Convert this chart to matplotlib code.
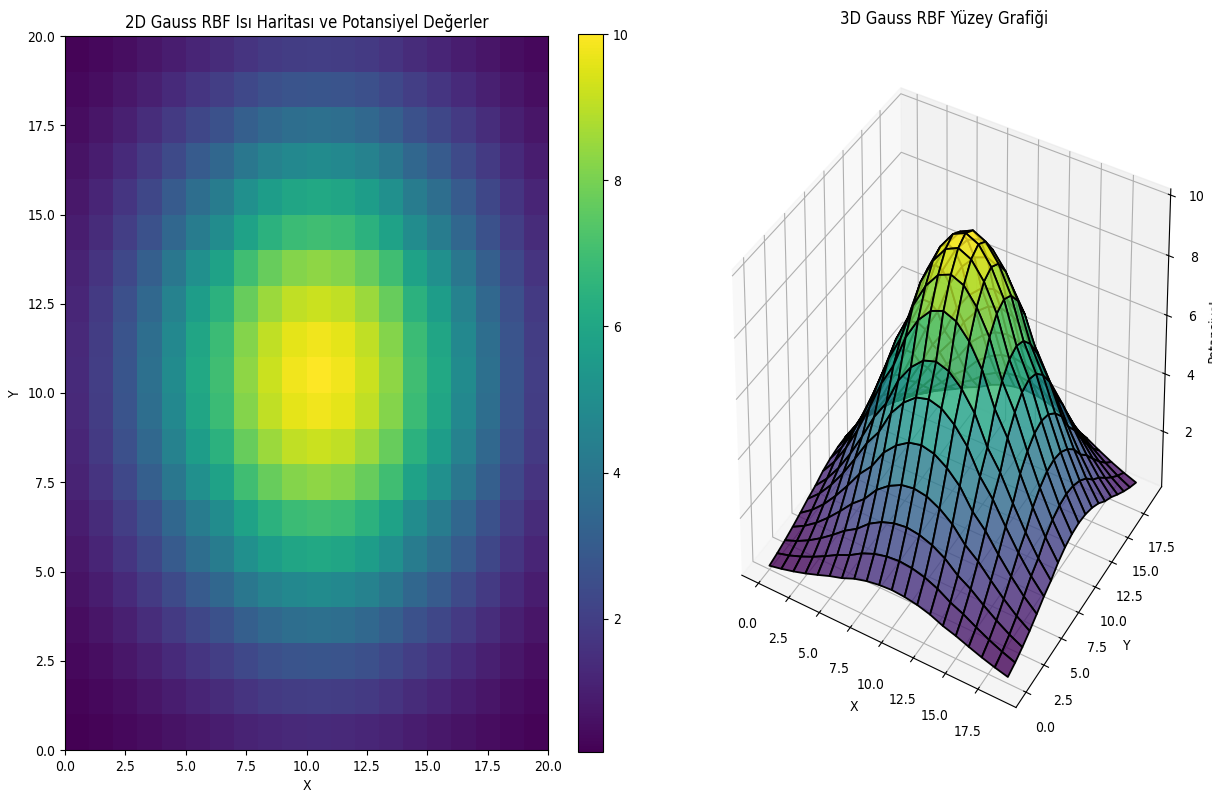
import matplotlib

matplotlib.use("Agg")
import matplotlib.pyplot as plt
import numpy as np

plt.rcParams["font.family"] = "DejaVu Sans"
plt.rcParams["font.stretch"] = "condensed"

# potential, one row per cell, bottom row first
potential = [
    [0.18, 0.27, 0.38, 0.51, 0.66, 0.82, 0.95, 1.13, 1.25, 1.32, 1.35, 1.32, 1.25, 1.13, 0.95, 0.82, 0.66, 0.51, 0.38, 0.27],
    [0.27, 0.39, 0.55, 0.74, 0.96, 1.20, 1.39, 1.65, 1.83, 1.94, 1.98, 1.94, 1.83, 1.65, 1.39, 1.20, 0.96, 0.74, 0.55, 0.39],
    [0.38, 0.55, 0.77, 1.04, 1.35, 1.69, 1.95, 2.32, 2.57, 2.72, 2.78, 2.72, 2.57, 2.32, 1.95, 1.69, 1.35, 1.04, 0.77, 0.55],
    [0.51, 0.74, 1.04, 1.41, 1.83, 2.28, 2.63, 3.13, 3.46, 3.68, 3.75, 3.68, 3.46, 3.13, 2.63, 2.28, 1.83, 1.41, 1.04, 0.74],
    [0.66, 0.96, 1.35, 1.83, 2.37, 2.96, 3.41, 4.07, 4.49, 4.77, 4.87, 4.77, 4.49, 4.07, 3.41, 2.96, 2.37, 1.83, 1.35, 0.96],
    [0.82, 1.20, 1.69, 2.28, 2.96, 3.68, 4.25, 5.07, 5.60, 5.95, 6.07, 5.95, 5.60, 5.07, 4.25, 3.68, 2.96, 2.28, 1.69, 1.20],
    [0.95, 1.39, 1.95, 2.63, 3.41, 4.25, 4.90, 5.85, 6.46, 6.86, 7.00, 6.86, 6.46, 5.85, 4.90, 4.25, 3.41, 2.63, 1.95, 1.39],
    [1.13, 1.65, 2.32, 3.13, 4.07, 5.07, 5.85, 6.97, 7.71, 8.18, 8.35, 8.18, 7.71, 6.97, 5.85, 5.07, 4.07, 3.13, 2.32, 1.65],
    [1.25, 1.83, 2.57, 3.46, 4.49, 5.60, 6.46, 7.71, 8.52, 9.05, 9.23, 9.05, 8.52, 7.71, 6.46, 5.60, 4.49, 3.46, 2.57, 1.83],
    [1.32, 1.94, 2.72, 3.68, 4.77, 5.95, 6.86, 8.18, 9.05, 9.60, 9.80, 9.60, 9.05, 8.18, 6.86, 5.95, 4.77, 3.68, 2.72, 1.94],
    [1.35, 1.98, 2.78, 3.75, 4.87, 6.07, 7.00, 8.35, 9.23, 9.80, 10.0, 9.80, 9.23, 8.35, 7.00, 6.07, 4.87, 3.75, 2.78, 1.98],
    [1.32, 1.94, 2.72, 3.68, 4.77, 5.95, 6.86, 8.18, 9.05, 9.60, 9.80, 9.60, 9.05, 8.18, 6.86, 5.95, 4.77, 3.68, 2.72, 1.94],
    [1.25, 1.83, 2.57, 3.46, 4.49, 5.60, 6.46, 7.71, 8.52, 9.05, 9.23, 9.05, 8.52, 7.71, 6.46, 5.60, 4.49, 3.46, 2.57, 1.83],
    [1.13, 1.65, 2.32, 3.13, 4.07, 5.07, 5.85, 6.97, 7.71, 8.18, 8.35, 8.18, 7.71, 6.97, 5.85, 5.07, 4.07, 3.13, 2.32, 1.65],
    [0.95, 1.39, 1.95, 2.63, 3.41, 4.25, 4.90, 5.85, 6.46, 6.86, 7.00, 6.86, 6.46, 5.85, 4.90, 4.25, 3.41, 2.63, 1.95, 1.39],
    [0.82, 1.20, 1.69, 2.28, 2.96, 3.68, 4.25, 5.07, 5.60, 5.95, 6.07, 5.95, 5.60, 5.07, 4.25, 3.68, 2.96, 2.28, 1.69, 1.20],
    [0.66, 0.96, 1.35, 1.83, 2.37, 2.96, 3.41, 4.07, 4.49, 4.77, 4.87, 4.77, 4.49, 4.07, 3.41, 2.96, 2.37, 1.83, 1.35, 0.96],
    [0.51, 0.74, 1.04, 1.41, 1.83, 2.28, 2.63, 3.13, 3.46, 3.68, 3.75, 3.68, 3.46, 3.13, 2.63, 2.28, 1.83, 1.41, 1.04, 0.74],
    [0.38, 0.55, 0.77, 1.04, 1.35, 1.69, 1.95, 2.32, 2.57, 2.72, 2.78, 2.72, 2.57, 2.32, 1.95, 1.69, 1.35, 1.04, 0.77, 0.55],
    [0.27, 0.39, 0.55, 0.74, 0.96, 1.20, 1.39, 1.65, 1.83, 1.94, 1.98, 1.94, 1.83, 1.65, 1.39, 1.20, 0.96, 0.74, 0.55, 0.39],
]
surface_ticks = [0.0, 2.5, 5.0, 7.5, 10.0, 12.5, 15.0, 17.5]

W, H = 1212, 807
fig = plt.figure(figsize=(W / 100, H / 100), dpi=100)

Z = np.array(potential)
n = Z.shape[0]

# Left: heatmap
ax1 = fig.add_axes([65 / W, 1 - 750 / H, 483 / W, 714 / H])
mesh = ax1.pcolormesh(np.arange(n + 1), np.arange(n + 1), Z, cmap="viridis")
ax1.set_title("2D Gauss RBF Isı Haritası ve Potansiyel Değerler", fontsize=12)
ax1.set_xlabel("X")
ax1.set_ylabel("Y")

cax = fig.add_axes([578 / W, 1 - 752 / H, 25 / W, 718 / H])
fig.colorbar(mesh, cax=cax)

# Right: surface. The reference is squeezed sideways, so the 3D axes must not be kept square.
ax2 = fig.add_axes([705 / W, 1 - 753 / H, 488 / W, 721 / H], projection="3d")
ax2.apply_aspect = lambda position=None: None
X, Y = np.meshgrid(np.arange(n), np.arange(n))
ax2.plot_surface(X, Y, Z, cmap="viridis", edgecolor="k", linewidth=1.3, alpha=0.8)
ax2.set_title("3D Gauss RBF Yüzey Grafiği", fontsize=12, x=0.49)
ax2.set_xticks(surface_ticks)
ax2.set_yticks(surface_ticks)
ax2.set_zlim(0.05, 10.2)
ax2.tick_params(axis="x", pad=7)
ax2.tick_params(axis="y", pad=7)
ax2.tick_params(axis="z", pad=6)
ax2.set_xlabel("X", labelpad=8)
ax2.set_ylabel("Y", labelpad=8)
ax2.set_zlabel("Potansiyel", labelpad=6)

fig.savefig("out.png", dpi=100)
